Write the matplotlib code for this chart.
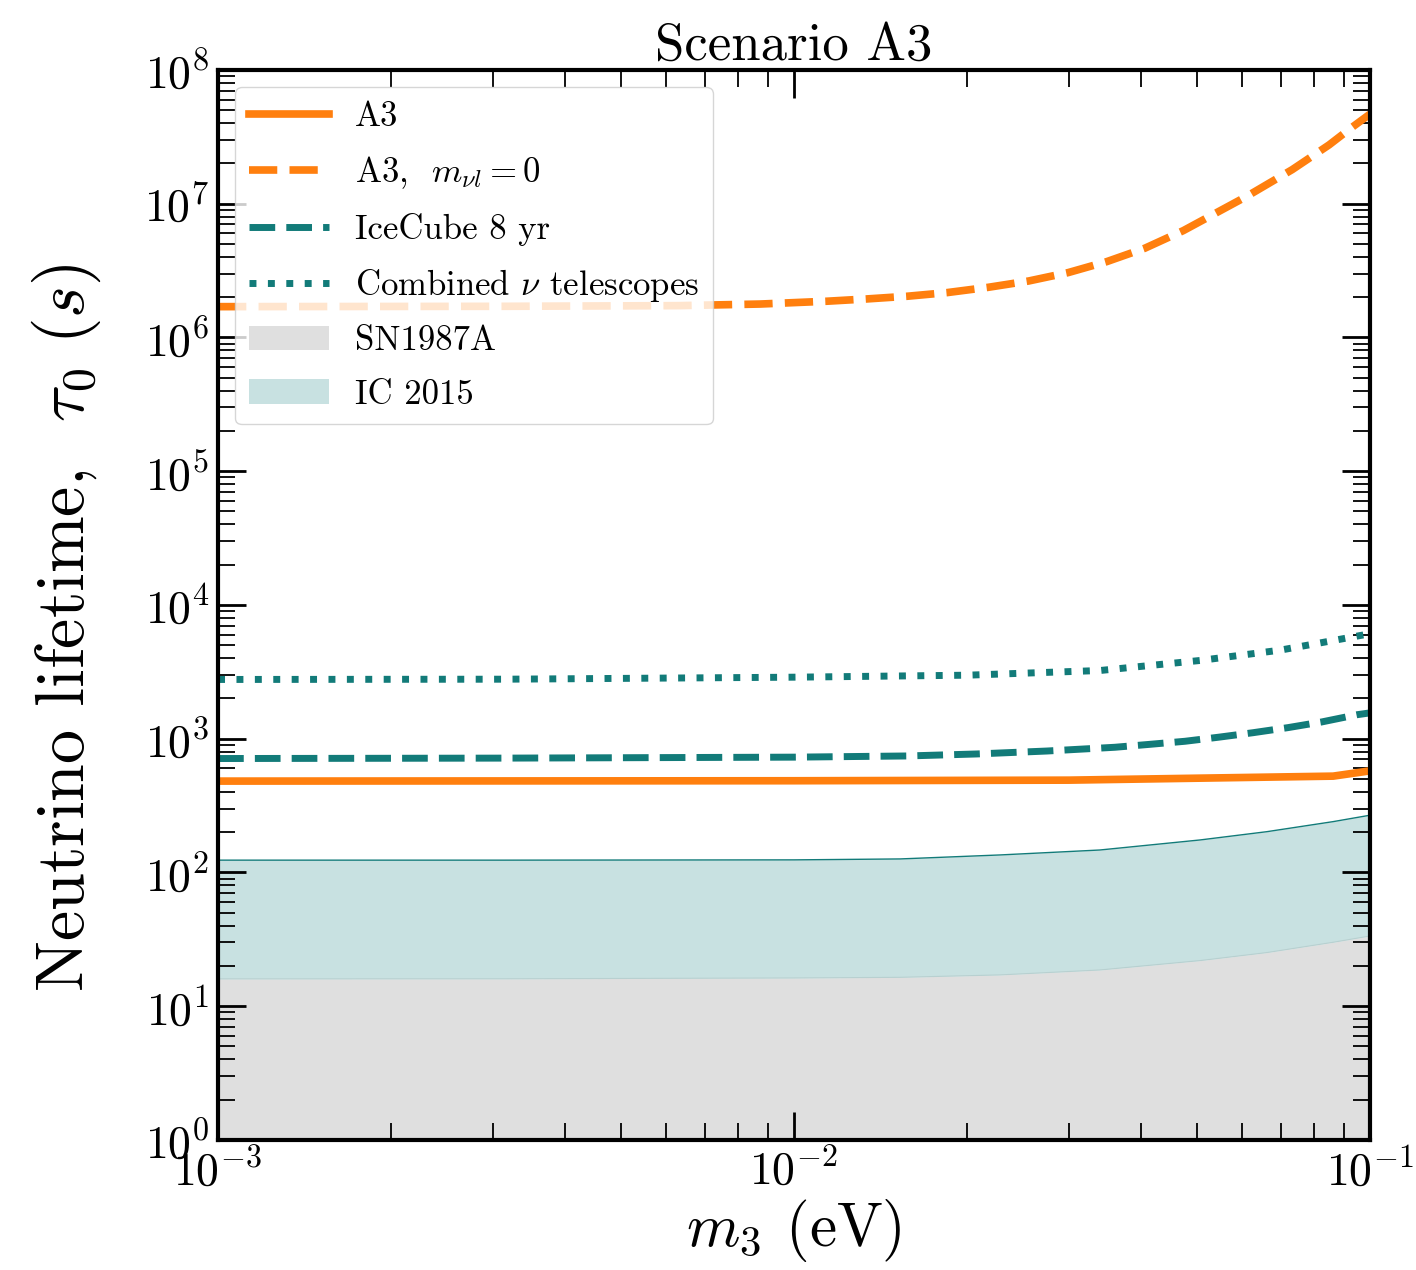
import matplotlib
matplotlib.use("Agg")
import matplotlib.pyplot as plt
from matplotlib.patches import Patch
from matplotlib.lines import Line2D

plt.rcParams["font.family"] = "serif"
plt.rcParams["font.serif"] = ["cmr10"]
plt.rcParams["mathtext.fontset"] = "cm"
plt.rcParams["axes.formatter.use_mathtext"] = True
plt.rcParams["axes.unicode_minus"] = False

ORANGE = "#ff7f0e"
TEAL = "#127b79"

# A3 (solid)
m3_a3 = [1e-3, 1e-2, 3e-2, 0.0863, 0.1]
tau_a3 = [482, 485, 490, 525, 575]

# A3 with m_nu_l = 0 (dashed)
m3_a3_0 = [1e-3, 3.16e-3, 6.31e-3, 8.73e-3, 0.0114, 0.01337, 0.0157, 0.01841, 0.02173,
           0.02553, 0.02992, 0.03491, 0.04064, 0.04742, 0.06109, 0.07328, 0.08492,
           0.09204, 0.1]
tau_a3_0 = [1.70e6, 1.71e6, 1.73e6, 1.778e6, 1.866e6, 1.941e6, 2.032e6, 2.163e6, 2.371e6,
            2.642e6, 3.055e6, 3.69e6, 4.645e6, 6.295e6, 1.135e7, 1.799e7, 2.754e7,
            3.597e7, 4.68e7]

# IceCube 8 yr
m3_ic8 = [1e-3, 3.16e-3, 1e-2, 0.0157, 0.02075, 0.02748, 0.03606, 0.0415, 0.04775,
          0.05458, 0.06266, 0.07211, 0.08241, 0.09484, 0.1]
tau_ic8 = [711, 716, 728, 743, 769, 809, 863, 908, 957,
           1026, 1109, 1211, 1334, 1510, 1560]

# Combined neutrino telescopes
m3_comb = [1e-3, 3.16e-3, 1e-2, 2.0e-2, 3.40e-2, 5.07e-2, 6.98e-2, 8.53e-2, 0.1]
tau_comb = [2773, 2786, 2884, 2985, 3236, 3846, 4592, 5370, 6095]

# IC 2015 band, SN1987A below it
m3_band = [1e-3, 3.16e-3, 1e-2, 0.01528, 0.0228, 0.03396, 0.0507, 0.06622, 0.0863, 0.1]
tau_band_hi = [123.6, 123.6, 124.2, 126.2, 135.2, 147.2, 175.0, 201.8, 239.9, 267.9]
tau_band_lo = [16.0, 16.03, 16.26, 16.44, 17.14, 18.66, 21.93, 25.18, 30.06, 33.5]

fig = plt.figure(figsize=(14.16, 12.7), dpi=100)
ax = fig.add_axes([0.154, 0.1024, 0.8135, 0.8425])

ax.fill_between(m3_band, 1, tau_band_lo, color="#dfdfdf", lw=0)
ax.fill_between(m3_band, tau_band_lo, tau_band_hi, color="#c8e1e1", lw=0)
ax.plot(m3_band, tau_band_hi, color=TEAL, lw=1)
ax.plot(m3_band, tau_band_lo, color="#b8d0d0", lw=0.8)

ax.plot(m3_comb, tau_comb, color=TEAL, lw=5, ls=":")
ax.plot(m3_ic8, tau_ic8, color=TEAL, lw=5, ls="--")
ax.plot(m3_a3, tau_a3, color=ORANGE, lw=5.5)
ax.plot(m3_a3_0, tau_a3_0, color=ORANGE, lw=5.5, ls="--")

ax.set_xscale("log")
ax.set_yscale("log")
ax.set_xlim(1e-3, 1e-1)
ax.set_ylim(1e0, 1e8)
ax.yaxis.set_major_locator(matplotlib.ticker.LogLocator(base=10, numticks=20))
ax.yaxis.set_minor_locator(matplotlib.ticker.LogLocator(base=10, subs=range(2, 10), numticks=20))

ax.tick_params(which="both", direction="in", top=True, right=True, labelsize=33, pad=6)
ax.tick_params(which="major", length=20, width=2)
ax.tick_params(which="minor", length=12, width=1.3)
for s in ax.spines.values():
    s.set_linewidth(3)

ax.set_title("Scenario A3", fontsize=38, pad=6)
ax.set_xlabel(r"$m_3$ (eV)", fontsize=44, labelpad=2)
ax.set_ylabel(r"Neutrino lifetime,  $\tau_0\ (s)$", fontsize=49)
ax.yaxis.set_label_coords(-0.10, 0.4785)

handles = [
    Line2D([], [], color=ORANGE, lw=5.5),
    Line2D([], [], color=ORANGE, lw=5.5, ls="--"),
    Line2D([], [], color=TEAL, lw=5, ls="--"),
    Line2D([], [], color=TEAL, lw=5, ls=":"),
    Patch(facecolor="#dfdfdf"),
    Patch(facecolor="#c8e1e1"),
]
labels = ["A3", r"A3,  $m_{\nu l} = 0$", "IceCube 8 yr", r"Combined $\nu$ telescopes",
          "SN1987A", "IC 2015"]
leg = ax.legend(handles, labels, loc="upper left", fontsize=25, handlelength=2.3,
                handletextpad=0.75, labelspacing=0.62, borderaxespad=0.5,
                framealpha=0.8, fancybox=True)

fig.savefig("out.png", dpi=100)
